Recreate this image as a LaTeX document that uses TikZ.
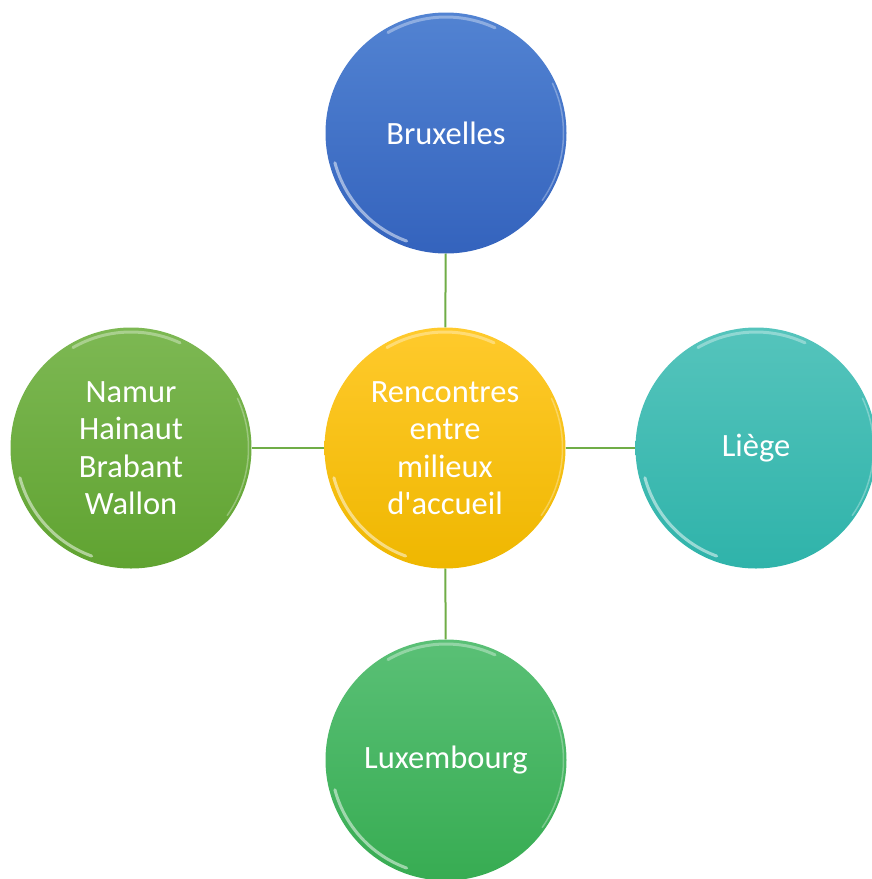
\documentclass[tikz,border=0pt]{standalone}
\usepackage{fontspec}
\setmainfont{Carlito}[Ligatures=TeXOff]
\definecolor{linkgreen}{HTML}{70AD47}
\definecolor{blueT}{HTML}{5283D2}
\definecolor{blueB}{HTML}{3463BD}
\definecolor{yelT}{HTML}{FFCA2C}
\definecolor{yelB}{HTML}{EFB700}
\definecolor{tealT}{HTML}{55C4BC}
\definecolor{tealB}{HTML}{2FB3AA}
\definecolor{lgT}{HTML}{7DB853}
\definecolor{lgB}{HTML}{60A331}
\definecolor{dgT}{HTML}{5AC076}
\definecolor{dgB}{HTML}{37AC52}
\tikzset{
  bubble/.style={circle, minimum size=241pt, inner sep=0pt, align=center,
    text=white, font=\fontsize{32.5}{37.5}\selectfont},
  link/.style={draw=linkgreen, line width=2pt},
  shine/.style={white, opacity=0.5, line width=3pt, line cap=round},
}
\begin{document}
\begin{tikzpicture}[x=1pt,y=1pt]
\useasboundingbox (0,0) rectangle (872,-879);
\node[bubble, top color=yelT, bottom color=yelB] (c) at (445,-448) {Rencontres\\entre\\milieux\\d'accueil};
\node[bubble, top color=blueT, bottom color=blueB] (t) at (446,-133) {Bruxelles};
\node[bubble, top color=lgT, bottom color=lgB] (l) at (131,-448) {Namur\\Hainaut\\Brabant\\Wallon};
\node[bubble, top color=tealT, bottom color=tealB] (r) at (756,-448) {Liège};
\node[bubble, top color=dgT, bottom color=dgB] (b) at (446,-760) {Luxembourg};
\draw[link] (c) -- (t);
\draw[link] (c) -- (l);
\draw[link] (c) -- (r);
\draw[link] (c) -- (b);
\foreach \n in {c,t,l,r,b}{
  \draw[shine] ([shift={(195:115pt)}]\n.center) arc (195:250:115pt);
  \draw[shine, opacity=0.35] ([shift={(65:116pt)}]\n.center) arc (65:120:116pt);
  \draw[shine, opacity=0.3, line width=1.5pt] ([shift={(-35:117.5pt)}]\n.center) arc (-35:25:117.5pt);
}
\end{tikzpicture}
\end{document}
